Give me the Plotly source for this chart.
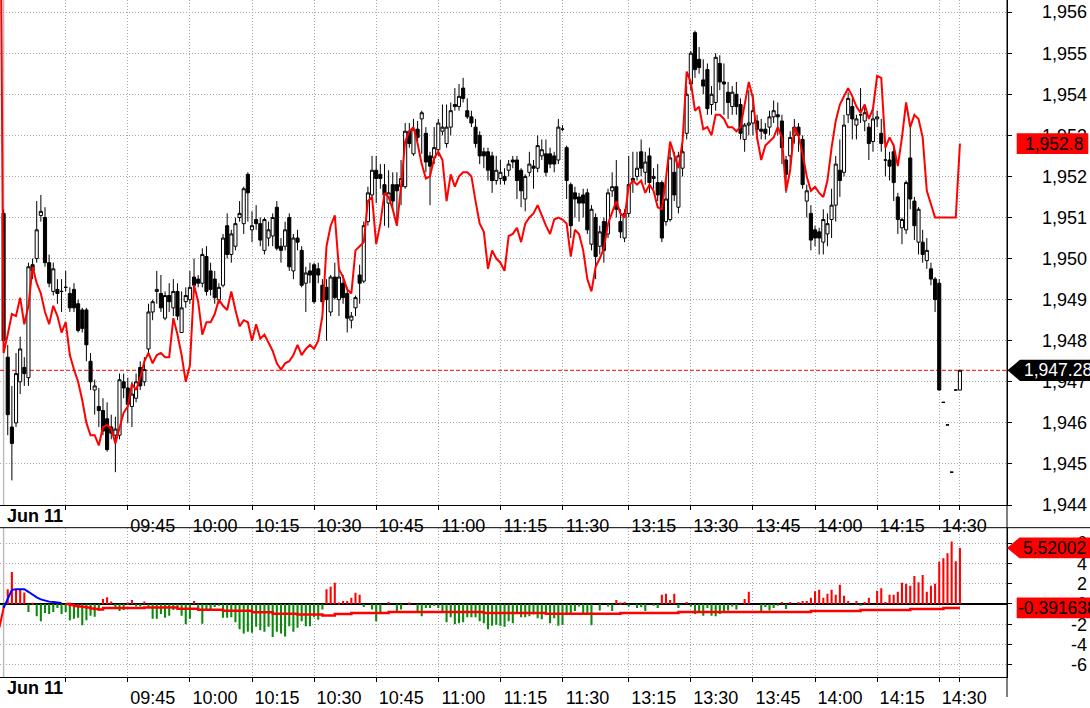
import plotly.graph_objects as go

# ---------------- data ----------------
# one bar per minute on Jun 11: index 0 = 09:15, index 135 = 11:30, index 136 = 13:00
bar_index = list(range(232))

opens = [
    1951.1, 1947.6, 1945.9, 1946.0, 1947.0, 1947.35, 1947.1, 1949.85, 1950.0, 1951.05,
    1951.0, 1949.9, 1949.2, 1949.25, 1949.2, 1949.3, 1949.15, 1949.25, 1948.9, 1948.75,
    1948.75, 1947.5, 1946.8, 1946.4, 1946.3, 1946.1, 1945.9, 1945.7, 1945.7, 1947.0,
    1946.85, 1946.4, 1946.6, 1947.35, 1947.0, 1947.8, 1948.7, 1949.2, 1949.15, 1948.55,
    1949.1, 1948.8, 1949.2, 1948.2, 1948.95, 1949.0, 1949.55, 1949.5, 1949.4, 1950.05,
    1949.7, 1949.5, 1949.0, 1949.35, 1950.8, 1950.1, 1950.3, 1951.0, 1950.85, 1952.05,
    1950.7, 1950.95, 1950.85, 1950.2, 1950.5, 1950.55, 1951.25, 1950.3, 1950.3, 1951.0,
    1949.7, 1950.5, 1950.2, 1949.4, 1949.7, 1949.85, 1949.75, 1949.35, 1949.3, 1948.7,
    1949.55, 1949.0, 1949.4, 1949.15, 1948.5, 1948.8, 1949.6, 1949.45, 1950.9, 1951.55,
    1952.15, 1952.05, 1951.8, 1951.35, 1951.8, 1951.8, 1951.75, 1951.75, 1953.1, 1952.55,
    1953.15, 1953.4, 1953.05, 1952.5, 1952.45, 1952.65, 1953.1, 1952.8, 1953.2, 1953.75,
    1953.7, 1954.15, 1953.6, 1953.45, 1953.2, 1953.0, 1952.6, 1952.6, 1952.5, 1951.9,
    1951.95, 1952.0, 1952.15, 1952.4, 1952.4, 1952.15, 1951.45, 1952.1, 1952.25, 1952.2,
    1952.5, 1952.55, 1952.55, 1952.5, 1952.4, 1953.15, 1952.7, 1951.8, 1951.6, 1951.5,
    1951.55, 1951.6, 1950.35, 1951.0, 1950.3, 1950.9, 1950.6, 1951.65, 1951.75, 1950.9,
    1950.5, 1951.1, 1951.95, 1952.0, 1952.6, 1952.1, 1952.5, 1951.95, 1951.85, 1951.85,
    1950.9, 1950.95, 1952.1, 1951.25, 1952.2, 1953.05, 1954.25, 1955.5, 1954.85, 1954.35,
    1954.6, 1953.75, 1953.8, 1954.75, 1954.3, 1954.05, 1953.7, 1954.0, 1953.75, 1952.9,
    1953.25, 1953.3, 1953.35, 1953.15, 1953.15, 1953.2, 1953.45, 1953.5, 1953.35, 1952.4,
    1952.5, 1953.0, 1953.2, 1952.9, 1951.4, 1951.1, 1950.7, 1950.65, 1950.4, 1950.6,
    1950.95, 1951.3, 1952.15, 1952.1, 1953.5, 1953.7, 1953.25, 1953.5, 1953.35, 1953.2,
    1952.85, 1953.4, 1953.05, 1952.4, 1952.4, 1952.6, 1951.5, 1950.75, 1950.7, 1952.45,
    1951.4, 1950.4, 1950.4, 1949.95, 1949.75, 1949.5, 1949.4, 1946.5, 1945.95, 1944.8,
    1946.8, 1946.8,
]
highs = [
    1951.2, 1947.9, 1946.9, 1947.7, 1948.1, 1947.6, 1949.9, 1950.0, 1951.4, 1951.55,
    1951.25, 1950.1, 1949.9, 1949.5, 1949.5, 1949.7, 1949.3, 1949.4, 1949.0, 1948.8,
    1948.8, 1947.7, 1947.05, 1946.85, 1946.6, 1946.5, 1946.2, 1946.15, 1947.2, 1947.2,
    1947.1, 1947.0, 1947.2, 1947.5, 1947.6, 1948.9, 1949.0, 1949.7, 1949.6, 1949.2,
    1949.4, 1949.5, 1949.4, 1949.2, 1949.3, 1949.7, 1950.0, 1949.6, 1950.25, 1950.3,
    1949.9, 1949.7, 1949.4, 1950.6, 1951.1, 1950.7, 1951.0, 1951.4, 1951.75, 1952.1,
    1951.15, 1951.3, 1951.0, 1951.0, 1950.9, 1951.1, 1951.4, 1950.5, 1950.9, 1951.1,
    1950.6, 1950.7, 1950.3, 1949.8, 1949.9, 1949.9, 1949.9, 1949.5, 1949.5, 1949.6,
    1949.9, 1949.75, 1949.6, 1949.3, 1948.7, 1949.1, 1949.85, 1950.9, 1951.75, 1952.5,
    1952.5, 1952.3, 1952.3, 1952.15, 1952.1, 1952.1, 1952.4, 1953.3, 1953.3, 1953.4,
    1953.35, 1953.6, 1953.2, 1952.6, 1953.2, 1953.4, 1953.75, 1953.75, 1953.8, 1954.15,
    1954.25, 1954.4, 1953.9, 1953.6, 1953.4, 1953.1, 1952.7, 1952.7, 1952.6, 1952.5,
    1952.4, 1952.2, 1952.4, 1952.5, 1952.5, 1952.2, 1952.05, 1952.6, 1952.4, 1953.0,
    1952.9, 1952.9, 1952.7, 1952.6, 1953.4, 1953.25, 1952.75, 1951.85, 1951.75, 1951.6,
    1951.7, 1951.7, 1951.3, 1951.1, 1950.8, 1951.0, 1951.7, 1952.1, 1952.4, 1951.2,
    1951.2, 1952.5, 1952.6, 1952.6, 1952.9, 1952.6, 1952.7, 1952.2, 1952.3, 1951.9,
    1951.9, 1952.7, 1952.6, 1952.6, 1953.0, 1954.2, 1955.05, 1955.55, 1955.15, 1954.85,
    1954.75, 1954.2, 1955.0, 1954.95, 1954.75, 1954.3, 1954.2, 1954.3, 1953.9, 1953.3,
    1954.1, 1954.0, 1953.5, 1953.4, 1953.3, 1953.6, 1953.85, 1953.8, 1953.5, 1952.5,
    1953.1, 1953.4, 1953.3, 1953.0, 1951.8, 1951.3, 1950.8, 1950.75, 1951.2, 1951.1,
    1951.7, 1952.5, 1952.9, 1953.5, 1954.05, 1953.9, 1953.5, 1954.15, 1953.7, 1953.3,
    1953.65, 1953.6, 1953.4, 1952.8, 1952.6, 1952.8, 1951.6, 1951.0, 1951.9, 1953.25,
    1951.5, 1951.25, 1950.7, 1950.5, 1949.9, 1949.55, 1949.5, 1946.5, 1945.95, 1944.8,
    1946.8, 1947.28,
]
lows = [
    1948.0, 1945.7, 1944.6, 1945.9, 1946.7, 1946.9, 1946.9, 1949.5, 1949.9, 1950.9,
    1949.8, 1949.3, 1949.1, 1948.9, 1948.7, 1949.2, 1948.7, 1948.7, 1948.2, 1948.2,
    1947.5, 1946.8, 1946.2, 1945.9, 1945.7, 1945.3, 1945.6, 1944.8, 1945.6, 1946.6,
    1946.0, 1945.9, 1946.5, 1946.8, 1946.9, 1947.7, 1948.5, 1948.9, 1948.7, 1948.5,
    1948.7, 1948.6, 1948.5, 1948.2, 1948.8, 1948.9, 1949.2, 1949.3, 1949.3, 1949.1,
    1949.1, 1948.9, 1948.9, 1949.3, 1950.0, 1949.9, 1950.2, 1950.9, 1950.6, 1950.9,
    1950.4, 1950.7, 1950.3, 1950.1, 1950.3, 1950.3, 1950.2, 1949.9, 1950.2, 1949.7,
    1949.5, 1950.2, 1949.3, 1948.7, 1949.4, 1948.9, 1949.4, 1948.8, 1948.0, 1948.6,
    1949.0, 1948.6, 1948.9, 1948.2, 1948.3, 1948.6, 1948.9, 1949.4, 1950.8, 1951.5,
    1951.35, 1951.7, 1950.8, 1950.75, 1951.2, 1950.8, 1951.3, 1951.7, 1952.7, 1952.5,
    1952.85, 1952.55, 1952.1, 1951.3, 1952.3, 1952.5, 1953.0, 1952.7, 1953.0, 1953.6,
    1953.6, 1953.8, 1953.4, 1953.2, 1952.7, 1952.3, 1952.2, 1951.9, 1951.6, 1951.8,
    1951.8, 1951.8, 1952.0, 1952.2, 1951.45, 1951.25, 1951.15, 1952.0, 1951.7, 1952.1,
    1952.4, 1952.0, 1952.2, 1952.1, 1952.3, 1953.1, 1951.45, 1950.5, 1951.0, 1950.9,
    1951.0, 1950.6, 1950.2, 1949.5, 1950.1, 1949.9, 1950.5, 1951.5, 1951.0, 1950.5,
    1950.4, 1951.0, 1951.6, 1951.9, 1952.0, 1951.8, 1951.6, 1951.7, 1951.4, 1950.4,
    1950.8, 1950.9, 1951.4, 1951.1, 1952.0, 1952.9, 1954.1, 1954.4, 1954.5, 1954.0,
    1953.5, 1953.5, 1953.6, 1954.1, 1953.5, 1953.4, 1953.5, 1953.5, 1952.9, 1952.6,
    1953.0, 1953.0, 1952.9, 1952.9, 1952.9, 1953.0, 1953.3, 1953.0, 1952.3, 1951.6,
    1952.2, 1952.8, 1952.6, 1951.7, 1951.0, 1950.2, 1950.3, 1950.1, 1950.1, 1950.3,
    1950.5, 1950.9, 1951.5, 1952.0, 1953.3, 1952.9, 1952.9, 1953.3, 1953.1, 1952.4,
    1952.6, 1953.2, 1952.6, 1952.0, 1951.9, 1951.4, 1950.6, 1950.35, 1950.6, 1951.2,
    1950.45, 1950.1, 1949.9, 1949.75, 1949.35, 1948.7, 1946.8, 1946.5, 1945.95, 1944.8,
    1946.8, 1946.8,
]
closes = [
    1948.0, 1946.2, 1945.5, 1947.2, 1947.8, 1947.2, 1949.8, 1949.7, 1950.7, 1951.15,
    1949.9, 1949.4, 1949.75, 1949.15, 1949.2, 1949.3, 1948.8, 1948.8, 1948.25, 1948.3,
    1947.9, 1947.0, 1946.9, 1946.3, 1945.8, 1945.35, 1945.75, 1945.85, 1947.05, 1946.85,
    1946.45, 1946.7, 1947.0, 1946.9, 1947.3, 1948.7, 1948.95, 1949.25, 1948.8, 1949.1,
    1948.95, 1949.2, 1948.6, 1948.8, 1949.1, 1949.3, 1949.35, 1949.4, 1950.1, 1949.2,
    1949.25, 1949.05, 1949.3, 1950.5, 1950.1, 1950.6, 1950.85, 1951.1, 1951.7, 1951.6,
    1950.8, 1950.85, 1950.45, 1950.95, 1950.7, 1951.0, 1950.25, 1950.2, 1950.7, 1949.8,
    1950.5, 1950.4, 1949.35, 1949.65, 1949.6, 1948.95, 1949.6, 1948.95, 1949.0, 1949.55,
    1949.05, 1949.55, 1949.05, 1948.55, 1948.6, 1949.05, 1949.4, 1950.8, 1951.6, 1952.15,
    1951.95, 1951.95, 1951.55, 1951.6, 1951.4, 1951.65, 1951.95, 1953.1, 1952.8, 1953.15,
    1952.95, 1953.55, 1952.35, 1952.25, 1952.7, 1953.3, 1953.2, 1953.2, 1953.6, 1953.7,
    1953.95, 1953.9, 1953.45, 1953.3, 1952.8, 1952.5, 1952.5, 1952.15, 1951.9, 1952.15,
    1952.1, 1951.9, 1952.3, 1952.35, 1951.9, 1951.65, 1952.0, 1952.3, 1952.2, 1952.75,
    1952.65, 1952.1, 1952.3, 1952.3, 1953.2, 1953.15, 1951.9, 1950.8, 1951.45, 1951.35,
    1951.35, 1950.7, 1951.2, 1950.05, 1950.65, 1950.2, 1951.6, 1951.75, 1951.2, 1950.65,
    1951.1, 1951.8, 1951.9, 1952.2, 1952.2, 1952.35, 1951.85, 1952.0, 1951.55, 1950.5,
    1951.45, 1952.45, 1951.55, 1952.5, 1952.6, 1954.0, 1955.0, 1954.6, 1954.65, 1954.2,
    1953.65, 1954.0, 1954.9, 1954.3, 1954.25, 1953.8, 1954.05, 1953.7, 1953.05, 1953.25,
    1953.3, 1953.6, 1953.15, 1953.1, 1953.05, 1953.45, 1953.6, 1953.45, 1952.7, 1952.05,
    1952.95, 1953.2, 1953.0, 1951.8, 1951.65, 1950.45, 1950.5, 1950.5, 1950.95, 1950.85,
    1951.3, 1952.3, 1951.9, 1953.25, 1953.9, 1953.4, 1953.4, 1953.5, 1953.55, 1952.8,
    1953.4, 1953.45, 1952.8, 1952.4, 1952.25, 1951.85, 1950.95, 1950.95, 1951.85, 1951.45,
    1950.8, 1951.2, 1950.1, 1950.2, 1949.5, 1949.0, 1946.8, 1946.5, 1945.95, 1944.8,
    1946.8, 1947.28,
]

# red comparison line in the price pane (starts one bar before the session)
ref_index = list(range(-1, 232))
ref_line = [
    1963.0,
    1947.7, 1948.15, 1948.65, 1948.6, 1949.05, 1948.4, 1948.85, 1949.8, 1949.4, 1949.15,
    1948.7, 1948.4, 1948.85, 1948.6, 1948.2, 1948.45, 1947.65, 1947.3, 1947.0, 1946.55,
    1946.0, 1945.7, 1945.7, 1945.45, 1945.9, 1945.95, 1945.85, 1945.5, 1945.9, 1946.25,
    1946.4, 1946.95, 1946.8, 1947.1, 1947.5, 1947.7, 1947.45, 1947.65, 1947.7, 1947.6,
    1947.6, 1948.55, 1948.15, 1947.65, 1947.0, 1947.4, 1949.35, 1948.95, 1948.15, 1948.45,
    1948.45, 1948.65, 1949.0, 1948.85, 1948.75, 1949.2, 1948.75, 1948.35, 1948.5, 1948.45,
    1948.0, 1948.4, 1948.05, 1948.15, 1947.95, 1947.75, 1947.45, 1947.3, 1947.45, 1947.5,
    1947.65, 1947.9, 1947.65, 1947.8, 1947.9, 1947.8, 1948.0, 1948.6, 1950.3, 1950.8,
    1951.05, 1949.75, 1949.55, 1949.25, 1949.15, 1950.2, 1950.3, 1950.4, 1951.4, 1951.5,
    1950.35, 1950.85, 1951.6, 1951.5, 1951.2, 1950.8, 1951.75, 1952.85, 1953.1, 1953.2,
    1952.8, 1952.3, 1951.95, 1952.0, 1952.45, 1952.6, 1952.4, 1951.4, 1952.05, 1951.75,
    1952.0, 1952.1, 1952.1, 1952.0, 1951.4, 1950.85, 1950.65, 1949.75, 1950.2, 1950.0,
    1949.9, 1949.7, 1950.55, 1950.6, 1950.75, 1950.4, 1950.85, 1951.0, 1951.1, 1951.3,
    1951.05, 1950.8, 1950.6, 1950.95, 1951.0, 1950.95, 1950.85, 1950.05, 1950.7, 1950.6,
    1950.2, 1949.5, 1949.2, 1949.8, 1950.0, 1950.25, 1950.85, 1951.15, 1951.4, 1951.1,
    1951.0, 1951.75, 1951.9, 1951.8, 1951.9, 1951.6, 1951.8, 1951.65, 1951.25, 1951.2,
    1951.95, 1952.85, 1952.55, 1952.2, 1952.85, 1954.55, 1954.3, 1953.6, 1953.7, 1953.15,
    1953.2, 1953.0, 1953.5, 1953.5, 1953.4, 1953.2, 1953.2, 1953.1, 1953.2, 1953.8,
    1954.3, 1953.9, 1952.95, 1952.4, 1952.75, 1952.85, 1952.95, 1953.2, 1952.95, 1951.65,
    1952.15, 1953.2, 1953.0, 1952.55, 1952.0, 1951.65, 1951.75, 1951.6, 1951.5, 1951.9,
    1952.7, 1953.35, 1953.75, 1953.95, 1954.15, 1953.95, 1953.7, 1953.55, 1953.75, 1953.4,
    1953.65, 1954.45, 1954.4, 1952.7, 1952.95, 1952.75, 1952.25, 1952.95, 1953.8, 1953.2,
    1953.5, 1953.4, 1952.95, 1951.65, 1951.3, 1951.0, 1951.0, 1951.0, 1951.0, 1951.0,
    1951.0, 1952.8,
]

# lower pane: histogram
hist_values = [
    -0.4, 1.46, 3.14, 1.46, 1.46, 1.13, -0.8, 0.1, -1.2, -1.7,
    -0.9, -1.0, -0.8, -0.4, -1.0, -0.8, -1.6, -1.45, -1.35, -2.1,
    -1.6, -1.15, -1.25, -0.65, 0.5, 0.65, 0.25, -0.4, -0.7, -0.6,
    0.15, 0.4, -0.25, -0.25, 0.25, -0.4, -1.45, -1.45, -1.0, -1.35,
    -1.15, -0.6, -0.3, -1.15, -2.0, -1.45, 0.3, -0.65, -1.95, -0.5,
    -0.65, -0.3, -0.15, -1.35, -1.35, -1.3, -1.8, -2.5, -2.9, -2.75,
    -2.85, -2.25, -2.6, -2.75, -2.25, -3.25, -2.75, -2.9, -3.2, -2.2,
    -2.75, -2.35, -1.7, -2.2, -2.2, -1.3, -1.55, -0.55, 1.45, 1.7,
    2.1, 0.15, 0.3, 0.3, 0.6, 1.1, 0.9, -0.3, 0.0, -0.55,
    -1.7, -0.85, 0.0, 0.2, 0.0, -0.8, -0.55, 0.0, 0.15, 0.0,
    -0.8, -1.2, -0.4, -0.4, -0.15, -0.4, -0.85, -1.8, -1.3, -2.0,
    -1.9, -1.8, -1.3, -1.3, -1.3, -1.7, -1.9, -2.5, -2.15, -2.05,
    -2.15, -2.25, -1.7, -1.9, -1.0, -1.3, -1.3, -1.2, -1.05, -1.4,
    -1.5, -1.05, -1.9, -1.4, -2.15, -2.05, -1.0, -1.05, -0.7, -0.25,
    -1.0, -1.0, -2.1, 0.0, -0.65, 0.0, -0.25, -0.7, 0.4, 0.15,
    0.2, -0.25, 0.0, -0.4, -0.3, -0.7, 0.0, -0.15, -0.4, 0.9,
    1.0, 0.4, 1.0, -0.4, 0.0, 0.2, -0.25, -1.0, -0.85, -1.15,
    -0.4, -1.15, -1.2, -1.0, -0.7, -0.65, -0.25, -0.55, 0.0, 0.5,
    1.2, 0.0, 0.0, -0.75, -0.3, -0.65, -0.4, -0.15, 0.2, -0.5,
    0.2, 0.0, 0.2, 0.3, 0.3, 0.6, 1.25, 1.4, 0.6, 1.0,
    1.4, 0.9, 1.9, 0.8, 0.3, 0.0, 0.3, -0.1, 0.2, 0.6,
    0.0, 1.3, 1.55, 0.2, 0.9, 0.9, 1.2, 2.1, 2.0, 1.8,
    2.75, 2.15, 2.85, 1.2, 1.8, 2.0, 4.15, 4.5, 5.0, 6.15,
    4.2, 5.52002,
]

# lower pane: signal line (red, stepped) and its blue opening section
signal_start_index = [-1, 0]
signal_start_values = [-2.3, -0.39]
signal_blue_index = list(range(0, 15))
signal_blue_values = [-0.39, 0.49, 1.39, 1.46, 1.46, 1.46, 1.2, 0.91, 0.65, 0.45,
                      0.32, 0.23, 0.19, 0.13, 0.1]
signal_step_index = [15, 16, 17, 18, 19, 20, 21, 22, 23, 24, 34, 42, 47, 53, 60, 65, 71,
                     77, 80, 84, 93, 116, 131, 149, 163, 195, 207, 219, 227, 231]
signal_step_values = [0.0, -0.1, -0.2, -0.25, -0.3, -0.35, -0.45, -0.5, -0.55, -0.4,
                      -0.35, -0.48, -0.58, -0.68, -0.82, -0.97, -1.05, -1.13, -1.0, -0.9,
                      -0.8, -0.9, -0.97, -0.9, -0.8, -0.7, -0.6, -0.5, -0.391638, -0.391638]

# time axis
time_tick_index = [15, 30, 45, 60, 75, 90, 105, 120, 135, 151, 166, 181, 196, 211, 226, 231]
time_tick_text = ["", "09:45", "10:00", "10:15", "10:30", "10:45", "11:00", "11:15",
                  "11:30", "13:15", "13:30", "13:45", "14:00", "14:15", "14:30", ""]
day_label = "Jun 11"
price_ticks = list(range(1944, 1957))
osc_ticks = [-6, -4, -2, 0, 2, 4, 6]
osc_tick_text = ["-6", "-4", "-2", "0", "2", "4", "6"]

# ---------------- geometry / style ----------------
W, H = 1090, 708
XD = 1007 / W                      # right edge of plotting area
YT0 = (H - 513) / H                # price pane bottom
YB0, YB1 = (H - 688) / H, (H - 536) / H   # oscillator pane
X_RANGE = [-0.87, 242.37]
P_RANGE = [1944, 1956.295]
O_RANGE = [-7.23, 7.52]
GRID = "#a8a8a8"
GDASH = "1px,2px"
FONT = "Arial, 'Liberation Sans', sans-serif"
AX_FS = 18
TAG_FS = 17.5
RED = "#ff0000"
GREEN = "#0a8a0a"

fig = go.Figure()
fig.add_trace(go.Candlestick(
    x=bar_index, open=opens, high=highs, low=lows, close=closes,
    increasing=dict(line=dict(color="black", width=1), fillcolor="white"),
    decreasing=dict(line=dict(color="black", width=1), fillcolor="black"),
    whiskerwidth=0, xaxis="x", yaxis="y", showlegend=False, hoverinfo="skip"))
fig.add_trace(go.Scatter(x=ref_index, y=ref_line, mode="lines",
                         line=dict(color=RED, width=2), xaxis="x", yaxis="y",
                         showlegend=False, hoverinfo="skip"))
fig.add_trace(go.Bar(x=bar_index, y=hist_values, width=0.5,
                     marker=dict(color=[RED if v >= 0 else GREEN for v in hist_values],
                                 line=dict(width=0)),
                     xaxis="x2", yaxis="y2", showlegend=False, hoverinfo="skip"))
fig.add_trace(go.Scatter(x=signal_step_index, y=signal_step_values, mode="lines",
                         line=dict(color=RED, width=2.5, shape="hv"),
                         xaxis="x2", yaxis="y2", showlegend=False, hoverinfo="skip"))
fig.add_trace(go.Scatter(x=signal_start_index, y=signal_start_values, mode="lines",
                         line=dict(color=RED, width=2),
                         xaxis="x2", yaxis="y2", showlegend=False, hoverinfo="skip"))
fig.add_trace(go.Scatter(x=signal_blue_index, y=signal_blue_values, mode="lines",
                         line=dict(color="#0000ff", width=2),
                         xaxis="x2", yaxis="y2", showlegend=False, hoverinfo="skip"))
# empty traces so the right-hand label axes get a subplot
fig.add_trace(go.Scatter(x=[None], y=[None], xaxis="x", yaxis="y3", showlegend=False))
fig.add_trace(go.Scatter(x=[None], y=[None], xaxis="x2", yaxis="y4", showlegend=False))

xcommon = dict(range=X_RANGE, domain=[0, XD], tickmode="array", tickvals=time_tick_index,
               ticktext=time_tick_text, ticks="outside", ticklen=4, tickcolor="black",
               showline=True, linecolor="black", linewidth=1, showgrid=True,
               gridcolor=GRID, griddash=GDASH, gridwidth=1, zeroline=False,
               ticklabelshift=25, ticklabelstandoff=0,
               tickfont=dict(size=AX_FS, color="black", family=FONT))
fig.update_layout(
    width=W, height=H, margin=dict(l=0, r=0, t=0, b=0),
    paper_bgcolor="white", plot_bgcolor="white", showlegend=False,
    font=dict(family=FONT, size=AX_FS, color="black"),
    boxgap=0.25, boxgroupgap=0.0,
    xaxis=dict(anchor="y", rangeslider=dict(visible=False), **xcommon),
    xaxis2=dict(anchor="y2", matches="x", **xcommon),
    yaxis=dict(domain=[YT0, 1], range=P_RANGE, side="right", anchor="x",
               tickmode="array", tickvals=price_ticks, ticks="outside", ticklen=4,
               tickcolor="black", showticklabels=False, showline=True,
               linecolor="black", showgrid=True, gridcolor=GRID, griddash=GDASH,
               zeroline=False),
    yaxis3=dict(overlaying="y", anchor="free", position=1.0, side="right",
                range=P_RANGE, tickmode="array", tickvals=price_ticks,
                ticktext=[f"{v:,d}" for v in price_ticks], ticks="",
                showgrid=False, showline=False, zeroline=False,
                ticklabelposition="inside", ticklabeloverflow="allow",
                tickfont=dict(size=AX_FS, color="black", family=FONT)),
    yaxis2=dict(domain=[YB0, YB1], range=O_RANGE, side="right", anchor="x2",
                tickmode="array", tickvals=osc_ticks, ticks="outside", ticklen=4,
                tickcolor="black", showticklabels=False, showline=True,
                linecolor="black", showgrid=True, gridcolor=GRID, griddash=GDASH,
                zeroline=True, zerolinecolor="black", zerolinewidth=1.5),
    yaxis4=dict(overlaying="y2", anchor="free", position=1.0, side="right",
                range=O_RANGE, tickmode="array", tickvals=osc_ticks,
                ticktext=osc_tick_text, ticks="", showgrid=False, showline=False,
                zeroline=False, ticklabelposition="inside", ticklabeloverflow="allow",
                tickfont=dict(size=AX_FS, color="black", family=FONT)),
)

last_close = closes[-1]
last_ref = ref_line[-1]
last_hist = hist_values[-1]
last_signal = signal_step_values[-1]


def tag_path(tip_px, left_px, right_px, v, half):
    a, b, c = tip_px / W, left_px / W, right_px / W
    return (f"M {a},{v} L {b},{v + half} L {c},{v + half} "
            f"L {c},{v - half} L {b},{v - half} Z")


PH = 10.75 / 41.725   # half badge height in price units
OH = 10.5 / 10.3      # half badge height in oscillator units
shapes = [
    dict(type="line", xref="x", yref="y domain", x0=0, x1=0, y0=0, y1=1,
         line=dict(color="#bdbdbd", width=1.5), layer="below"),
    dict(type="line", xref="x", yref="y2 domain", x0=0, x1=0, y0=0, y1=1,
         line=dict(color="#bdbdbd", width=1.5), layer="below"),
    dict(type="line", xref="x domain", yref="y", x0=0, x1=1, y0=last_close, y1=last_close,
         line=dict(color=RED, width=1, dash="4px,2px"), layer="below"),
    dict(type="line", xref="paper", yref="paper", x0=0, x1=1, y0=YB1, y1=YB1,
         line=dict(color="black", width=1)),
    dict(type="line", xref="paper", yref="paper", x0=XD, x1=XD, y0=0, y1=1,
         line=dict(color="black", width=1)),
    dict(type="path", xref="paper", yref="y",
         path=tag_path(1016.7, 1016.7, 1088.3, last_ref, PH * 0.98),
         fillcolor=RED, line=dict(width=0), layer="above"),
    dict(type="path", xref="paper", yref="y",
         path=tag_path(1007.5, 1020, 1090, last_close, PH),
         fillcolor="black", line=dict(width=0), layer="above"),
    dict(type="path", xref="paper", yref="y2",
         path=tag_path(1007, 1019.5, 1090, last_hist, OH),
         fillcolor=RED, line=dict(width=0), layer="above"),
    dict(type="path", xref="paper", yref="y2",
         path=tag_path(1016.7, 1016.7, 1090, last_signal, OH),
         fillcolor=RED, line=dict(width=0), layer="above"),
]

annotations = [
    dict(text=f"{last_ref:,.1f}", xref="paper", yref="y", x=1023 / W, y=last_ref,
         xanchor="left", yanchor="middle", showarrow=False,
         font=dict(size=TAG_FS, color="black", family=FONT)),
    dict(text=f"{last_close:,.2f}", xref="paper", yref="y", x=1022 / W, y=last_close,
         xanchor="left", yanchor="middle", showarrow=False,
         font=dict(size=TAG_FS, color="white", family=FONT)),
    dict(text=f"{last_hist:.5f}", xref="paper", yref="y2", x=1021 / W, y=last_hist,
         xanchor="left", yanchor="middle", showarrow=False,
         font=dict(size=TAG_FS, color="black", family=FONT)),
    dict(text=f"{last_signal:.6f}", xref="paper", yref="y2", x=1016 / W, y=last_signal,
         xanchor="left", yanchor="middle", showarrow=False,
         font=dict(size=TAG_FS, color="black", family=FONT)),
    dict(text=f"<b>{day_label}</b>", xref="x", yref="paper", x=0, y=(H - 524.5) / H,
         xanchor="left", yanchor="middle", xshift=1, showarrow=False,
         font=dict(size=AX_FS, color="black", family=FONT)),
    dict(text=f"<b>{day_label}</b>", xref="x", yref="paper", x=0, y=(H - 698.5) / H,
         xanchor="left", yanchor="middle", xshift=1, showarrow=False,
         font=dict(size=AX_FS, color="black", family=FONT)),
]
fig.update_layout(shapes=shapes, annotations=annotations)

fig.write_html("out.html")
